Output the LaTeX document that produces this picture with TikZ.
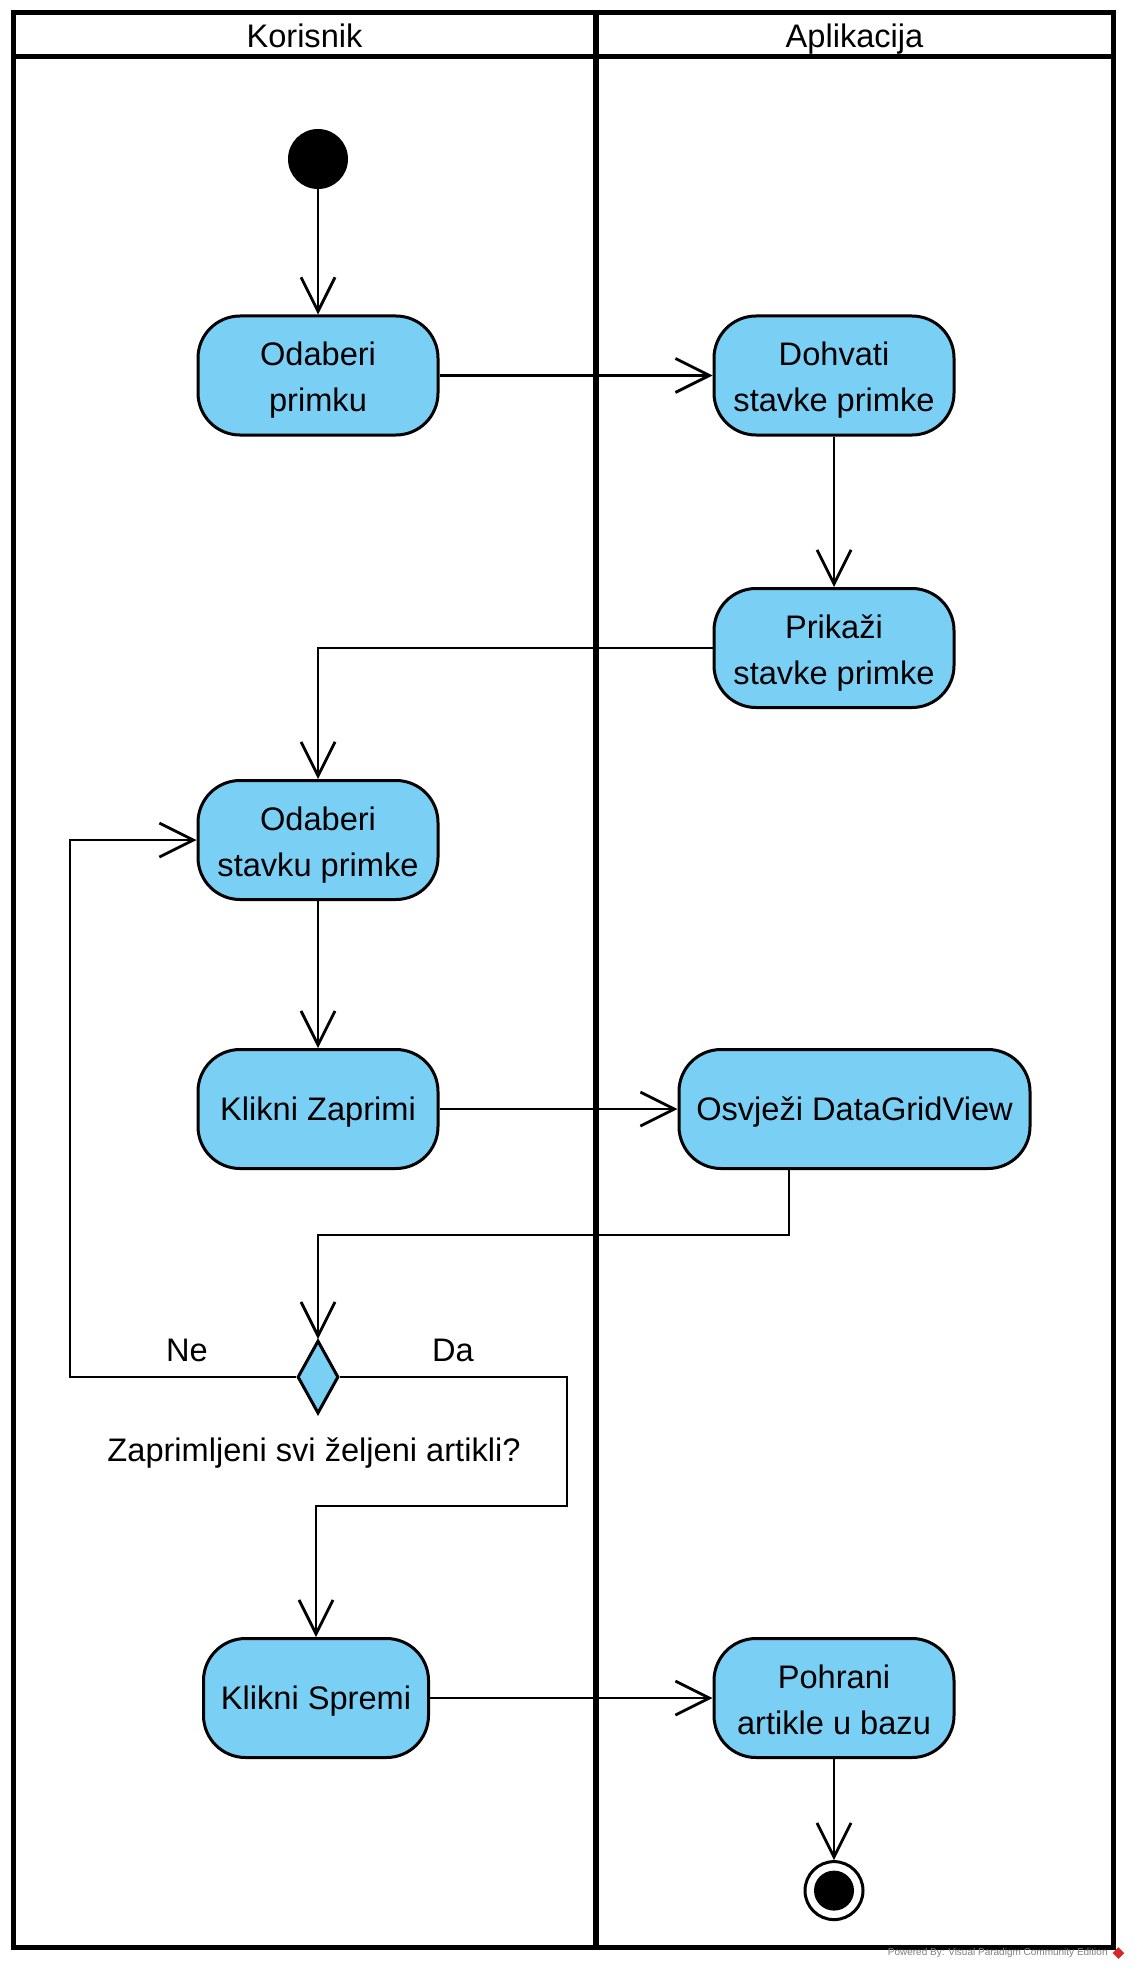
\documentclass[tikz,border=0pt]{standalone}
\usepackage{fontspec}
\setmainfont{Liberation Sans}
\usepackage{tikz}
\usepackage{xcolor}
\usetikzlibrary{shapes,arrows,positioning,calc}
\usetikzlibrary{shapes.geometric}
\usetikzlibrary{arrows.meta}
\definecolor{vpblue}{RGB}{122,207,245}
\definecolor{vpred}{RGB}{214,40,40}
% two lines of text, with fixed top and bottom
\newcommand{\dvareda}[2]{\rule{0pt}{16.4pt}#1\\#2\rule[-3.4pt]{0pt}{3.4pt}}

\begin{document}
\begin{tikzpicture}[
    x=0.5pt, y=-0.5pt,
    okvir/.style={draw=black, line width=2.5pt},
    staza/.style={font=\fontsize{16.3}{20}\selectfont, anchor=base},
    akcija/.style={rectangle, rounded corners=21pt, minimum width=120pt, minimum height=59.5pt, draw=black, line width=1.5pt, fill=vpblue, align=center, inner sep=2pt, font=\fontsize{16.3}{23}\selectfont},
    jedanred/.style={akcija, text height=14.4pt, text depth=3.4pt},
    pocetak/.style={circle, fill=black, minimum size=30pt, inner sep=0pt},
    kraj/.style={circle, draw=black, fill=white, line width=1.5pt, minimum size=29pt, inner sep=0pt, path picture={\fill[black] (path picture bounding box.center) circle (10pt);}},
    odluka/.style={diamond, draw=black, fill=vpblue, line width=1.5pt, minimum width=20.5pt, minimum height=36.5pt, inner sep=0pt},
    oznaka/.style={font=\fontsize{16.3}{20}\selectfont, anchor=base},
    tok/.style={-{Straight Barb[length=17pt,width=17pt]}, line width=1.4pt}
]
\useasboundingbox (0,0) rectangle (1137,1974);

% Swimlanes
\draw[okvir] (13,13) rectangle (1113,1947);
\draw[okvir] (13,57) -- (1113,57);
\draw[draw=black, line width=3pt] (596,13) -- (596,1947);
\node[staza] (korisnik) at (304.5,48) {Korisnik};
\node[staza] (aplikacija) at (854.5,48) {Aplikacija};

% Activities
\node[pocetak] (start) at (318,159) {};
\node[akcija] (odaberiPrimku) at (318,375.5) {\dvareda{Odaberi}{primku}};
\node[akcija] (dohvati) at (834,375.5) {\dvareda{Dohvati}{stavke primke}};
\node[akcija] (prikazi) at (834,648) {\dvareda{Prikaži}{stavke primke}};
\node[akcija] (odaberiStavku) at (318,840) {\dvareda{Odaberi}{stavku primke}};
\node[jedanred] (zaprimi) at (318,1109) {Klikni Zaprimi};
\node[jedanred, minimum width=175.5pt] (osvjezi) at (854.5,1109) {Osvježi DataGridView};
\node[odluka] (odluka) at (318,1377) {};
\node[oznaka] (pitanje) at (314,1461) {Zaprimljeni svi željeni artikli?};
\node[jedanred, minimum width=112.5pt] (spremi) at (316,1698) {Klikni Spremi};
\node[akcija] (pohrani) at (834,1698) {\dvareda{Pohrani}{artikle u bazu}};
\node[kraj] (end) at (834,1890.6) {};

% Bends
\coordinate (petljaKut) at (70,840);
\coordinate (daKut) at (567,1506);

% Flows
\draw[tok] (start) -- (odaberiPrimku);
\draw[tok] (odaberiPrimku.east) -- (dohvati.west);
\draw[tok] (dohvati) -- (prikazi);
\draw[tok] (prikazi.west) -| (odaberiStavku.north);
\draw[tok] (odaberiStavku) -- (zaprimi);
\draw[tok] (zaprimi.east) -- (osvjezi.west);
\draw[tok] ([xshift=-32.75pt]osvjezi.south) |- ([yshift=52pt]odluka.north) -- (odluka.north);
\draw[tok] (odluka.west) -| (petljaKut) -- (odaberiStavku.west);
\draw[tok] (odluka.east) -| (daKut) -| (spremi.north);
\draw[tok] (spremi.east) -- (pohrani.west);
\draw[tok] (pohrani) -- (end);

% Guards
\node[oznaka] (ne) at (187,1361) {Ne};
\node[oznaka] (da) at (453,1361) {Da};

% Watermark
\node[font=\fontsize{5}{6}\selectfont, text=gray, anchor=east, inner sep=0pt] (powered) at (1108,1953) {Powered By: Visual Paradigm Community Edition};
\node[diamond, fill=vpred, minimum size=6pt, inner sep=0pt, right=2pt of powered] (logo) {};

\end{tikzpicture}
\end{document}
